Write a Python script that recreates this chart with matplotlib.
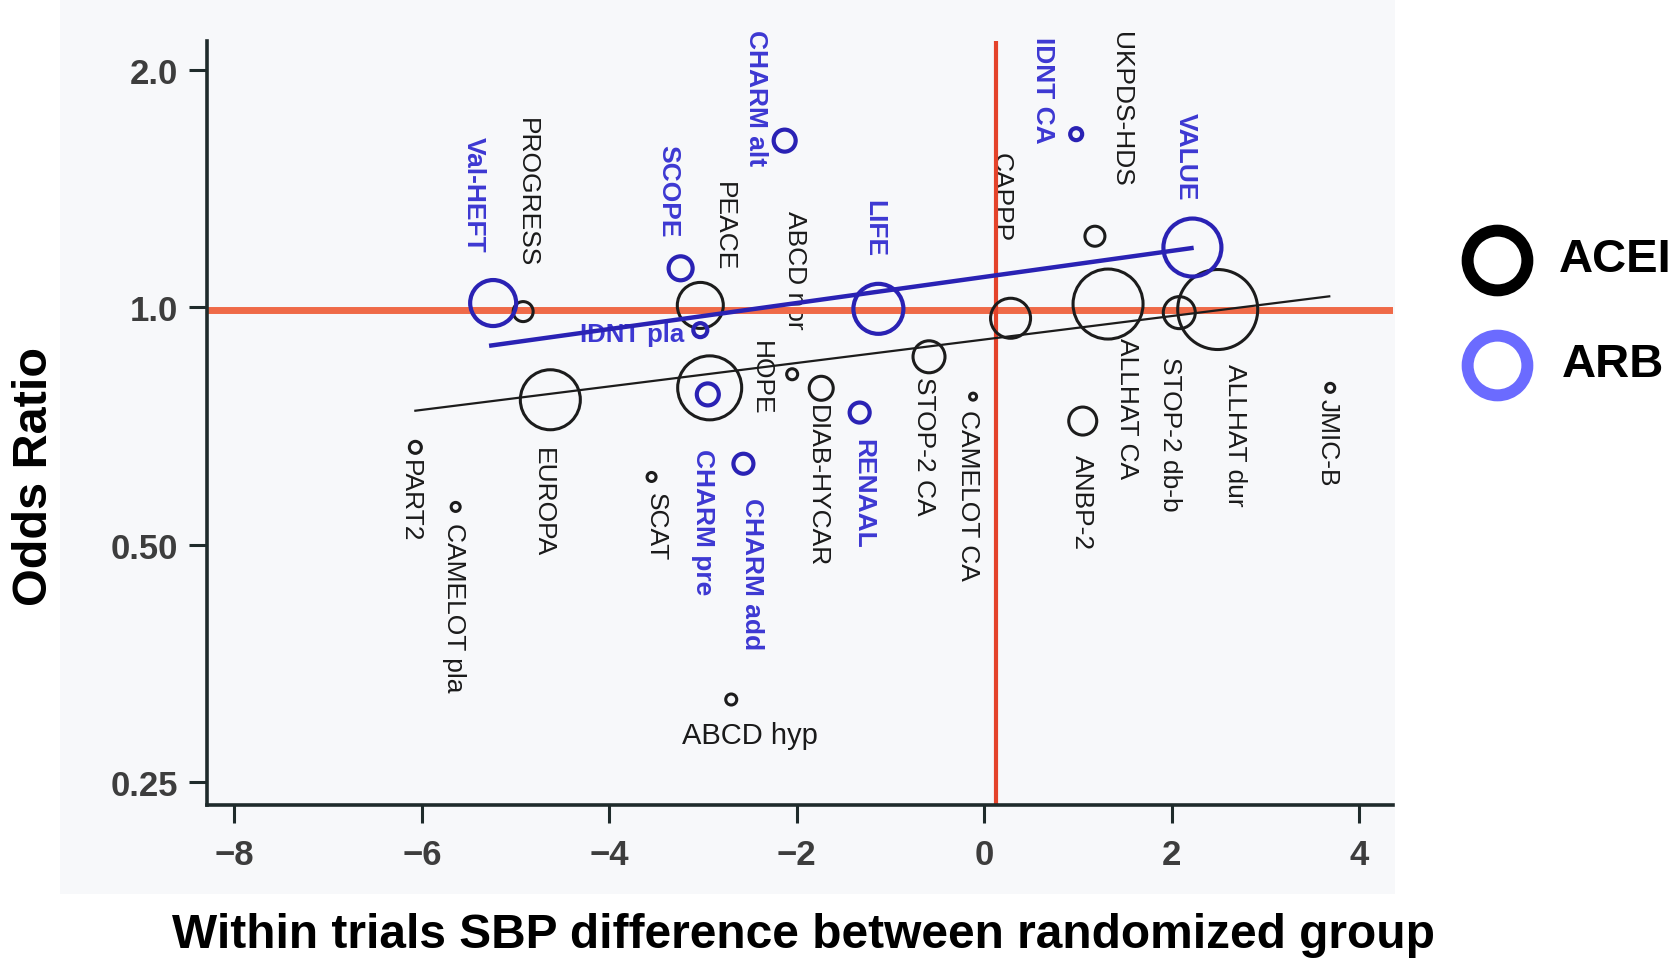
import matplotlib
matplotlib.use("Agg")
import matplotlib.pyplot as plt
from matplotlib import font_manager
from matplotlib.lines import Line2D
from matplotlib.patches import Rectangle

# ACE inhibitor trials: SBP difference (mmHg) and odds ratio
acei_names = ["PROGRESS", "PEACE", "HOPE", "EUROPA", "PART2", "CAMELOT pla", "SCAT",
              "ABCD hyp", "ABCD nor", "DIAB-HYCAR", "STOP-2 CA", "CAMELOT CA", "CAPPP",
              "UKPDS-HDS", "ALLHAT CA", "STOP-2 db-b", "ALLHAT dur", "ANBP-2", "JMIC-B"]
acei_sbp = [-4.92, -3.03, -2.93, -4.63, -6.07, -5.64, -3.55, -2.70, -2.05, -1.74,
            -0.59, -0.12, 0.28, 1.18, 1.32, 2.08, 2.49, 1.05, 3.69]
acei_or = [0.987, 1.005, 0.79, 0.763, 0.664, 0.558, 0.609, 0.318, 0.822, 0.789,
           0.865, 0.77, 0.968, 1.23, 1.009, 0.984, 0.993, 0.717, 0.79]
acei_weight = [10, 23, 32, 30, 6, 4.5, 4.5, 5.5, 5.5, 12, 16, 3.5, 20, 10, 35, 16, 40, 14, 4.5]

# angiotensin receptor blocker trials
arb_names = ["Val-HEFT", "SCOPE", "CHARM alt", "IDNT pla", "CHARM pre", "CHARM add",
             "LIFE", "RENAAL", "IDNT CA", "VALUE"]
arb_sbp = [-5.24, -3.24, -2.13, -3.03, -2.95, -2.57, -1.13, -1.33, 0.98, 2.22]
arb_or = [1.012, 1.12, 1.626, 0.935, 0.775, 0.633, 0.995, 0.735, 1.657, 1.19]
arb_weight = [23, 12, 11, 7, 11, 10, 25, 10, 6, 29]

# regression lines (end points)
acei_fit_x = [-6.07, 3.68]
acei_fit_or = [0.739, 1.032]
arb_fit_x = [-5.26, 2.21]
arb_fit_or = [0.894, 1.188]

y_ticks = [0.25, 0.5, 1.0, 2.0]
y_ticklabels = ["0.25", "0.50", "1.0", "2.0"]
x_ticks = [-8, -6, -4, -2, 0, 2, 4]

# label placement: offset in pixels from the point, rotated or not
label_pos = {
    "CHARM alt": (-29, 112, 270), "Val-HEFT": (-19, 167, 270), "PROGRESS": (4, 195, 270),
    "SCOPE": (-12, 124, 270), "PEACE": (24, 124, 270), "ABCD nor": (3, 164, 270),
    "LIFE": (-4, 110, 270), "CAPPP": (-10, 166, 270), "IDNT CA": (-33, 98, 270),
    "UKPDS-HDS": (26, 205, 270), "VALUE": (-7, 136, 270), "HOPE": (51, 48, 270),
    "DIAB-HYCAR": (-4, -16, 270), "RENAAL": (4, -25, 270), "STOP-2 CA": (-5, -19, 270),
    "CAMELOT CA": (-5, -12, 270), "ALLHAT CA": (19, -33, 270), "STOP-2 db-b": (-9, -43, 270),
    "ALLHAT dur": (17, -53, 270), "ANBP-2": (-1, -33, 270), "JMIC-B": (-3, -10, 270),
    "EUROPA": (-7, -47, 270), "PART2": (-5, -12, 270), "CAMELOT pla": (-2, -15, 270),
    "SCAT": (4, -15, 270), "CHARM pre": (-5, -54, 270), "CHARM add": (9, -33, 270),
    "ABCD hyp": (19, -35, 0), "IDNT pla": (-68, -4, 0),
}

plt.rcParams['font.family'] = ['Liberation Sans', 'DejaVu Sans']
names = {f.name for f in font_manager.fontManager.ttflist}

DPI = 100
fig = plt.figure(figsize=(16.8, 9.62), dpi=DPI)
fig.patch.set_facecolor('white')
fig.add_artist(Rectangle((60 / 1680, 1 - 895 / 962), 1335 / 1680, 895 / 962,
                         transform=fig.transFigure, facecolor='#f7f8fa', edgecolor='none', zorder=0))

ax = fig.add_axes([206.8 / 1680, 1 - 805.7 / 962, (1393 - 206.8) / 1680, (805.7 - 42) / 962])
ax.set_facecolor('none')
ax.set_yscale('log', base=2)
ax.set_xlim(-8.295, 4.36)
ax.set_ylim(0.2339, 2.175)

BLACK = '#1c1c1c'
BLUE = '#2a22b4'
BLUE_TXT = '#3d38d2'


def px_to_size(r):
    return (2 * r * 72 / DPI) ** 2


ax.scatter(acei_sbp, acei_or, s=[px_to_size(r) for r in acei_weight], facecolors='none',
           edgecolors=BLACK, linewidths=2.2, zorder=3)
ax.scatter(arb_sbp, arb_or, s=[px_to_size(r) for r in arb_weight], facecolors='none',
           edgecolors=BLUE, linewidths=3.0, zorder=3)

ax.axhline(0.993, color='#ef6a48', lw=5, zorder=2.5)
ax.axvline(0.12, color='#e4432a', lw=3, zorder=2.5)

ax.plot(acei_fit_x, acei_fit_or, color=BLACK, lw=1.6, zorder=4)
ax.plot(arb_fit_x, arb_fit_or, color=BLUE, lw=3.2, zorder=4)

for group, xs, ys, col, wt in [(acei_names, acei_sbp, acei_or, '#1a1a1a', 'normal'),
                               (arb_names, arb_sbp, arb_or, BLUE_TXT, 'bold')]:
    for name, x, y in zip(group, xs, ys):
        dx, dy, rot = label_pos[name]
        if rot == 270:
            ax.annotate(name, (x, y), xytext=(dx, dy), textcoords='offset pixels',
                        rotation=270, ha='center', va='top', fontsize=19,
                        color=col, fontweight=wt, zorder=2)
        else:
            fs = 21 if name == "ABCD hyp" else 18.5
            ax.annotate(name, (x, y), xytext=(dx, dy), textcoords='offset pixels',
                        ha='center', va='center', fontsize=fs,
                        color=col, fontweight=wt, zorder=2)

for side in ['top', 'right']:
    ax.spines[side].set_visible(False)
for side in ['left', 'bottom']:
    ax.spines[side].set_color('#1f2b2b')
    ax.spines[side].set_linewidth(2.6)

ax.set_yticks(y_ticks)
ax.set_yticklabels(y_ticklabels)
ax.yaxis.set_minor_locator(matplotlib.ticker.NullLocator())
ax.set_xticks(x_ticks)
ax.tick_params(axis='both', direction='out', length=13, width=2.2, color='#1f2b2b',
               labelsize=25, labelcolor='#3d3d3d')
for lab in ax.get_xticklabels() + ax.get_yticklabels():
    lab.set_fontweight('bold')
ax.tick_params(axis='y', pad=8)
ax.tick_params(axis='x', pad=11)

# axis titles
if 'Liberation Sans Narrow' in names:
    fig.text(35 / 1680, 1 - 477 / 962, "Odds Ratio", rotation=90, ha='center', va='center',
             fontsize=42, fontweight='bold', family=['Liberation Sans Narrow', 'DejaVu Sans'])
else:
    fig.text(35 / 1680, 1 - 477 / 962, "Odds Ratio", rotation=90, ha='center', va='center',
             fontsize=35, fontweight='bold')
fig.text(803.6 / 1680, 1 - 936 / 962, "Within trials SBP difference between randomized group",
         ha='center', va='center', fontsize=34.5, fontweight='bold', color='black')

# legend drawn by hand
for yy, col, lab, lx in [(261, 'black', 'ACEI', 1559), (366, '#6b6bff', 'ARB', 1562)]:
    fig.add_artist(Line2D([1496.7 / 1680], [1 - yy / 962], transform=fig.transFigure,
                          marker='o', markersize=43, mfc='none', mec=col, mew=8.6,
                          linestyle='none'))
    fig.text(lx / 1680, 1 - (yy - 1) / 962, lab, ha='left', va='center', fontsize=34,
             fontweight='bold', color='black')

plt.savefig('out.png', dpi=DPI)
